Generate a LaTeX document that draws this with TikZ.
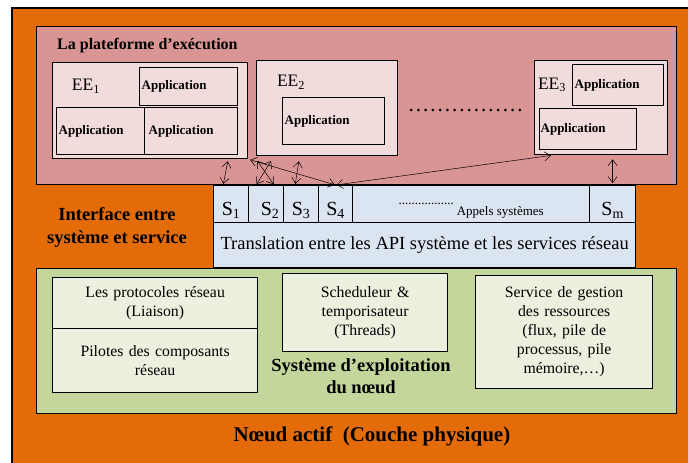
\documentclass[tikz,border=0pt]{standalone}
\usepackage{fontspec}
\setmainfont{Liberation Serif}
\usepackage{xcolor}
\usetikzlibrary{arrows.meta}
\definecolor{noeud}{HTML}{E36C09}
\definecolor{rose}{HTML}{D99594}
\definecolor{rosepale}{HTML}{F2DCDB}
\definecolor{bleupale}{HTML}{DBE5F1}
\definecolor{vert}{HTML}{C3D69B}
\definecolor{vertpale}{HTML}{EBF1DE}

\begin{document}
\begin{tikzpicture}[x=1pt, y=-1pt,
    bloc/.style={draw, line width=1.3pt, anchor=north west, inner sep=0pt},
    appli/.style={bloc, fill=rosepale, align=left, inner xsep=2pt,
      font=\fontsize{13}{15}\selectfont\bfseries},
    appel/.style={bloc, fill=bleupale, text height=24pt, text depth=2pt, inner ysep=1pt,
      minimum height=37pt, font=\fontsize{20}{22}\selectfont},
    module/.style={bloc, fill=vertpale, align=center, inner xsep=5pt,
      font=\fontsize{15.8}{19}\selectfont},
    titre/.style={inner sep=0pt, align=center, font=\fontsize{18.5}{23}\selectfont\bfseries},
    api/.style={line width=0.5pt,
      {Straight Barb[length=6pt,width=9pt]}-{Straight Barb[length=6pt,width=9pt]}}]
  \useasboundingbox (0,0) rectangle (688,463);
  \clip (0,0) rectangle (688,463);
  % Noeud actif (fond)
  \draw[fill=noeud, line width=1.3pt] (12,8) rectangle (700,475);

  % La plateforme d'execution
  \node[bloc, fill=rose, minimum width=640pt, minimum height=158pt] (plateforme) at (36,26) {};
  \node[inner sep=0pt, anchor=west, font=\fontsize{16}{19}\selectfont\bfseries] (titreplat) at (57,46)
    {La plateforme d’exécution};
  \node[bloc, fill=rosepale, minimum width=195pt, minimum height=96pt] (ee1) at (52,62) {};
  \node[bloc, fill=rosepale, minimum width=141pt, minimum height=95pt] (ee2) at (256,60) {};
  \node[bloc, fill=rosepale, minimum width=133pt, minimum height=94pt] (ee3) at (534,60) {};
  \node[inner sep=0pt, font=\fontsize{17.5}{20}\selectfont] (nomee1) at (86,86) {EE\textsubscript{1}};
  \node[inner sep=0pt, font=\fontsize{17.5}{20}\selectfont] (nomee2) at (291,82) {EE\textsubscript{2}};
  \node[inner sep=0pt, font=\fontsize{17.5}{20}\selectfont] (nomee3) at (552,85) {EE\textsubscript{3}};
  \node[appli, text width=94pt, minimum height=38pt] (app11) at (139,67) {Application};
  \node[appli, text width=84pt, minimum height=47pt] (app12) at (56,107) {Application};
  \node[appli, text width=85pt, inner xsep=4pt, minimum height=47pt] (app13) at (144,107) {Application};
  \node[appli, text width=98pt, minimum height=47pt] (app21) at (282,97) {Application};
  \node[appli, text width=87pt, minimum height=41pt] (app31) at (572,64) {Application};
  \node[appli, text width=95pt, inner xsep=1pt, minimum height=41pt] (app32) at (539,108) {Application};
  \draw[line width=3pt, line cap=round, dash pattern=on 0pt off 7.25pt] (411,110) -- (521,110);

  % Interface entre systeme et service
  \node[titre] (interface) at (117,227) {Interface entre\\système et service};
  \node[appel, minimum width=35pt] (s1) at (213,185) {S\textsubscript{1}\hspace{8pt}};
  \node[appel, minimum width=35pt] (s2) at (248,185) {\hspace{8pt}S\textsubscript{2}};
  \node[appel, minimum width=35pt] (s3) at (283,185) {S\textsubscript{3}\hspace{4pt}};
  \node[appel, minimum width=34pt] (s4) at (318,185) {S\textsubscript{4}};
  \node[appel, minimum width=237pt, font=\fontsize{13}{15}\selectfont] (appels) at (352,185)
    {\raisebox{11pt}{.................}\hspace{3pt}Appels systèmes};
  \node[appel, minimum width=46pt] (sm) at (589,185) {S\textsubscript{m}};
  \node[bloc, fill=bleupale, minimum width=422pt, minimum height=45pt,
    font=\fontsize{18.5}{22}\selectfont] (translation) at (213,222)
    {Translation entre les API système et les services réseau};

  % appels entre EE et services
  \draw[api, shorten <=1pt, shorten >=2pt] ([xshift=-8pt]s1.north) -- ([xshift=-3pt]s1.north |- ee1.south);
  \draw[api, shorten <=1pt, shorten >=2pt] ([xshift=-10pt]s2.north) -- ([xshift=6pt]s2.north |- ee1.south);
  \draw[api, shorten <=1pt, shorten >=2pt] ([xshift=8pt]s2.north) -- ([xshift=-10pt]s2.north |- ee1.south);
  \draw[api, shorten <=1pt, shorten >=2pt] ([xshift=-6pt]s3.north) -- ([xshift=-2pt]s3.north |- ee1.south);
  \draw[api, shorten <=1pt, shorten >=2pt] (s4.north) -- (ee1.south east);
  \draw[api, shorten <=1pt, shorten >=1pt] (s4.north) -- ([xshift=18pt]ee3.south west);
  \draw[api, shorten <=2pt, shorten >=4pt] (sm.north) -- (sm.north |- ee3.south);

  % Systeme d'exploitation du noeud
  \node[bloc, fill=vert, minimum width=640pt, minimum height=145pt] (systeme) at (36,268) {};
  \node[module, text width=195pt, minimum height=51pt] (protocoles) at (52,277)
    {Les protocoles réseau\\(Liaison)};
  \node[module, text width=195pt, minimum height=64pt] (pilotes) at (52,328)
    {Pilotes des composants\\réseau};
  \node[module, text width=155pt, minimum height=78pt] (scheduleur) at (282,273)
    {Scheduleur \&\\temporisateur\\(Threads)};
  \node[module, text width=167pt, minimum height=113pt] (ressources) at (475,275)
    {Service de gestion\\des ressources\\(flux, pile de\\processus, pile\\mémoire,…)};
  \node[titre, font=\fontsize{18.5}{22}\selectfont\bfseries] (nomsysteme) at (361,376)
    {Système d’exploitation\\du nœud};

  % Noeud actif
  \node[inner sep=0pt, font=\fontsize{21}{24}\selectfont\bfseries] (nomnoeud) at (372,436)
    {Nœud actif\ \ (Couche physique)};
\end{tikzpicture}
\end{document}
